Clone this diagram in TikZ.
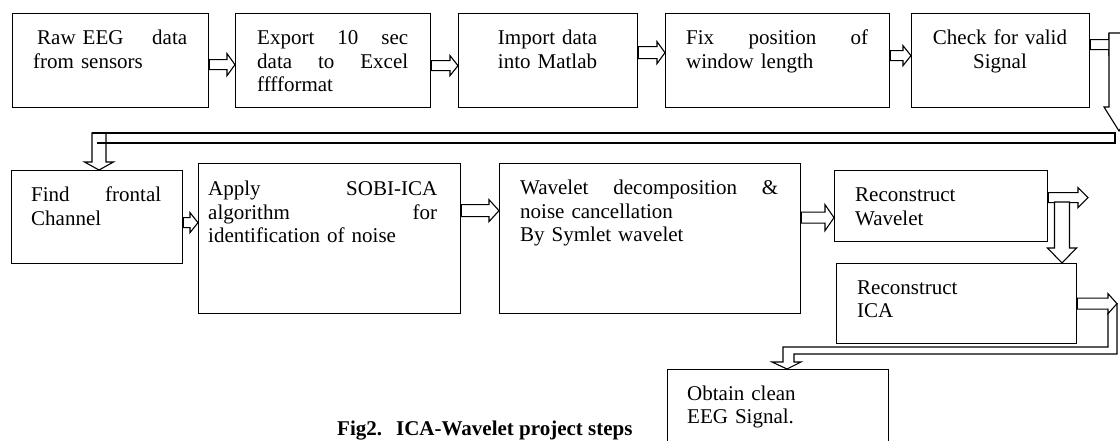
\documentclass[tikz,border=0pt]{standalone}
\usepackage{fontspec}
\setmainfont{Liberation Serif}
\usetikzlibrary{calc}

% hollow block arrow pointing right: {start}{tip}{body half}{head half}{head length}
\newcommand\rblock[5]{%
  \draw[blk] let \p1=(#1), \p2=(#2) in
    (\x1,\y1+#3pt) -- (\x2-#5pt,\y1+#3pt) -- (\x2-#5pt,\y1+#4pt) -- (\x2,\y1)
    -- (\x2-#5pt,\y1-#4pt) -- (\x2-#5pt,\y1-#3pt) -- (\x1,\y1-#3pt) -- cycle;}
% hollow block arrow pointing down: {top}{tip}{stem half}{head half}{head length}
\newcommand\dblock[5]{%
  \draw[blk] let \p1=(#1), \p2=(#2) in
    (\x1-#3pt,\y1) -- (\x1-#3pt,\y2+#5pt) -- (\x1-#4pt,\y2+#5pt) -- (\x1,\y2)
    -- (\x1+#4pt,\y2+#5pt) -- (\x1+#3pt,\y2+#5pt) -- (\x1+#3pt,\y1) -- cycle;}

\begin{document}
\begin{tikzpicture}[x=1pt,y=-1pt,
  box/.style={draw, line width=1.3pt, rectangle, inner sep=0pt, anchor=north west},
  blk/.style={draw, line width=1.1pt, fill=white, line join=miter},
  txt/.style={inner sep=0pt, anchor=base west, align=left},
  ctxt/.style={inner sep=0pt, anchor=base, align=center},
  font=\fontsize{21}{23.5}\selectfont]
\useasboundingbox (0,0) rectangle (1120,441);
\clip (0,0) rectangle (1120,441);

% first row of steps
\node[box, minimum width=196pt, minimum height=94pt] (raw)    at (12,13)  {};
\node[box, minimum width=195pt, minimum height=94pt] (export) at (235,13) {};
\node[box, minimum width=179pt, minimum height=94pt] (import) at (458,13) {};
\node[box, minimum width=224pt, minimum height=94pt] (fix)    at (665,13) {};
\node[box, minimum width=178pt, minimum height=94pt] (check)  at (911,13) {};

\node[txt, text width=154pt] (rawt) at (33,45) {\hspace*{4pt}Raw EEG\hfill data\\from sensors};
\node[txt, text width=151pt] (expt) at (257,45) {Export\hfill 10\hfill sec\\data\hfill to\hfill Excel\\fffformat};
\node[ctxt, text width=179pt] (impt) at (547.5,45) {Import data\\into Matlab};
\node[txt, text width=182pt] (fixt) at (686,45) {Fix\hfill position\hfill of\\window length};
\node[ctxt, text width=178pt] (chkt) at (1000,45) {Check for valid\\Signal};

% second row of steps
\node[box, minimum width=171pt, minimum height=93pt]  (find)  at (11,170)  {};
\node[box, minimum width=262pt, minimum height=150pt] (apply) at (198,163) {};
\node[box, minimum width=301pt, minimum height=150pt] (wave)  at (499,163) {};
\node[box, minimum width=213pt, minimum height=71pt]  (rw)    at (834,170) {};
\node[box, minimum width=240pt, minimum height=80pt]  (rica)  at (836,263) {};
\node[box, minimum width=221pt, minimum height=95pt]  (clean) at (667,369) {};

\node[txt, text width=130pt] (findt)  at (31,202)  {Find\hfill frontal\\Channel};
\node[txt, text width=229pt] (applyt) at (208,196) {Apply\hfill SOBI-ICA\\algorithm\hfill for\\identification of noise};
\node[txt, text width=258pt] (wavet)  at (520,195) {Wavelet\hfill decomposition\hfill \&\\noise cancellation\\By Symlet wavelet};
\node[txt, text width=180pt] (rwt)    at (855,202) {Reconstruct\\Wavelet};
\node[txt, text width=200pt] (ricat)  at (857,294) {Reconstruct\\ICA};
\node[txt, text width=190pt] (cleant) at (687,400) {Obtain clean\\EEG Signal.};

\node[inner sep=0pt, anchor=base west, font=\fontsize{21}{24}\selectfont\bfseries] (cap)
  at (337,435) {Fig2.\hspace{14pt}ICA-Wavelet project steps};

% arrows of the first row
\rblock{$(raw.east)+(0,4)$}{export.west}{5}{11}{8}
\rblock{$(export.east)+(0,5)$}{import.west}{5}{10}{8}
\rblock{$(import.east)+(0,-8)$}{fix.west}{6}{11}{8}
\rblock{$(fix.east)+(0,-5)$}{check.west}{5}{10}{8}

% turn from the end of the first row down to the second row
\coordinate (chkout)  at (1118,44);
\coordinate (chkturn) at (1119,33);
\coordinate (chktip)  at (1119,131);
\rblock{$(check.east)+(0,-16)$}{chkout}{5}{10}{9}
\dblock{chkturn}{chktip}{10}{15}{24}
\coordinate (findin) at (99,133);
\dblock{findin}{find.north}{7}{14.5}{8}
\draw[blk, fill=none] (97,143) -- (1115,143) -- (1115,133) -- (92,133);

% arrows of the second row
\rblock{$(find.east)+(0,5.5)$}{apply.west}{5}{10}{8}
\rblock{$(apply.east)+(0,-28)$}{wave.west}{6}{11}{10}
\rblock{$(wave.east)+(0,-21)$}{rw.west}{5.5}{13}{9}

\coordinate (rwout)  at (1088,197);
\coordinate (rwdown) at (1062,202);
\rblock{$(rw.east)+(0,-8.5)$}{rwout}{5}{10}{10}
\dblock{rwdown}{rica.north}{7.5}{14.5}{15}

% bent arrow from the ICA reconstruction to the clean signal
\coordinate (icaout)  at (1117,303);
\coordinate (cleanin) at (787,369);
\rblock{rica.east}{icaout}{5.5}{10}{9}
\draw[blk, fill=none] (1108,313) -- (1108,347) -- (783,347) -- (783,362) -- (772,362)
  -- (cleanin) -- (801,362) -- (794,362) -- (794,354) -- (1117,354) -- (icaout);
\end{tikzpicture}
\end{document}
